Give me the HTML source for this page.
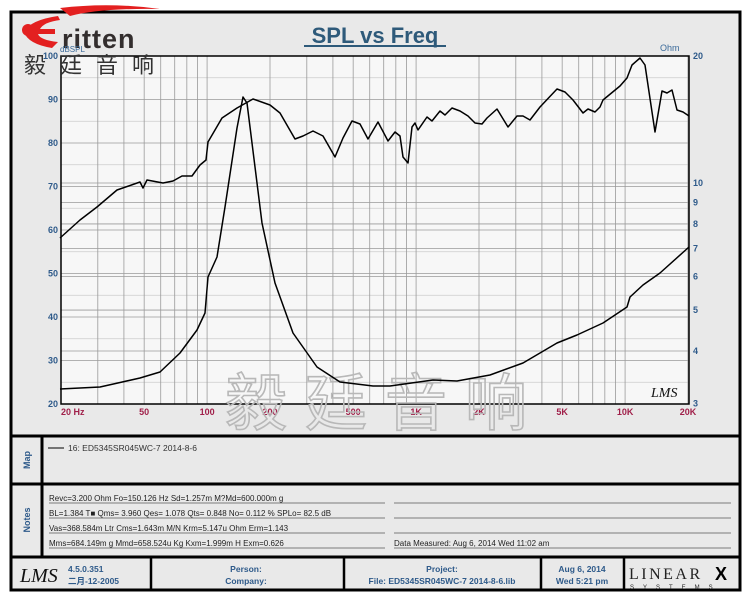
<!DOCTYPE html>
<html><head><meta charset="utf-8"><style>
body{margin:0;width:750px;height:600px;background:#fff;font-family:"Liberation Sans","Noto Sans CJK SC",sans-serif;overflow:hidden}
svg{position:absolute;left:0;top:0}
</style></head><body>
<svg width="750" height="600" xmlns="http://www.w3.org/2000/svg" font-family="Liberation Sans, Noto Sans CJK SC, sans-serif">
<rect x="11" y="12" width="729" height="578" fill="#e9e9e9" stroke="#000" stroke-width="3"/>
<rect x="61" y="56" width="628" height="348" fill="#f7f7f7"/>
<g stroke="#9a9a9a" stroke-width="0.8" id="grid"></g>
<rect x="61" y="56" width="628" height="348" fill="none" stroke="#000" stroke-width="1.5"/>
<text x="375" y="43" font-size="22" font-weight="bold" fill="#2e5a7a" text-anchor="middle">SPL vs Freq</text>
<line x1="304" y1="46" x2="446" y2="46" stroke="#2e5a7a" stroke-width="2"/>
<!-- logo -->
<path d="M60 8 Q110 2 160 9 Q100 8 70 16 Z" fill="#e32020"/>
<path d="M58 16 Q30 20 24 32 Q28 44 52 48 L58 42 Q40 40 38 34 L55 34 L55 29 L40 29 Q44 22 60 20 Z" fill="#e32020"/>
<circle cx="28" cy="30" r="6" fill="#e32020"/>
<text x="62" y="48" font-size="27" font-weight="bold" fill="#332e2e" letter-spacing="1">ritten</text>
<text x="24" y="73" font-size="22" fill="#333" letter-spacing="14">毅廷音响</text>
<text x="60" y="52" font-size="8" fill="#3a6a9a">dBSPL</text>
<text x="660" y="51" font-size="9" fill="#3a6a9a">Ohm</text>
<g font-size="9" fill="#2e5a8a" font-weight="bold" id="ylab"></g>
<g font-size="9" fill="#a0204a" font-weight="bold" id="xlab"></g>
<text x="225" y="425" font-size="62" fill="none" stroke="#b8b8b8" stroke-width="1.6" letter-spacing="18">毅廷音响</text>
<text x="651" y="397" font-size="14" font-style="italic" fill="#111" font-family="Liberation Serif, serif">LMS</text>
<polyline fill="none" stroke="#000" stroke-width="1.5" stroke-linejoin="round" points="60,238 80,220 97,207 117,190 140,182 143,188 147,180 163,183 173,181 182,176 192,176 200,165 206,160 208,142 222,118 237,108 253,99 270,105 280,113 295,139 303,136 313,131 323,136 335,157 343,138 352,121 360,124 368,139 378,122 388,141 395,132 400,136 403,157 408,163 412,127 415,123 418,130 427,117 432,121 440,111 445,115 452,108 460,111 468,116 475,123 482,124 487,118 497,109 508,127 517,116 523,116 530,120 540,107 557,89 565,92 573,100 583,113 588,109 595,112 600,107 603,100 620,86 627,78 632,65 640,58 645,65 655,132 662,91 667,93 672,90 677,110 683,112 689,116"/>
<polyline fill="none" stroke="#000" stroke-width="1.5" stroke-linejoin="round" points="60,389 100,387 140,378 160,372 180,353 197,330 205,313 208,277 217,257 225,207 237,128 243,97 247,103 262,223 275,283 293,333 317,367 340,382 373,386 390,386 433,380 457,381 490,375 523,363 557,343 577,335 603,323 627,307 630,297 643,285 660,273 689,247"/>
<line x1="11" y1="436" x2="740" y2="436" stroke="#000" stroke-width="3"/>
<line x1="11" y1="484" x2="740" y2="484" stroke="#000" stroke-width="3"/>
<line x1="11" y1="557" x2="740" y2="557" stroke="#000" stroke-width="3"/>
<line x1="42" y1="436" x2="42" y2="557" stroke="#000" stroke-width="3"/>
<text transform="translate(30,460) rotate(-90)" font-size="9" font-weight="bold" fill="#2e5a8a" text-anchor="middle">Map</text>
<text transform="translate(30,520) rotate(-90)" font-size="9" font-weight="bold" fill="#2e5a8a" text-anchor="middle">Notes</text>
<line x1="48" y1="448" x2="64" y2="448" stroke="#000" stroke-width="1"/>
<text x="68" y="451" font-size="8.5" fill="#333">16: ED5345SR045WC-7   2014-8-6</text>
<g font-size="8" fill="#222">
<text x="49" y="501">Revc=3.200 Ohm  Fo=150.126 Hz  Sd=1.257m M?Md=600.000m g</text>
<text x="49" y="516">BL=1.384 T■  Qms= 3.960  Qes= 1.078  Qts= 0.848  No= 0.112 %  SPLo= 82.5 dB</text>
<text x="49" y="531">Vas=368.584m Ltr  Cms=1.643m M/N  Krm=5.147u Ohm  Erm=1.143</text>
<text x="49" y="546">Mms=684.149m g  Mmd=658.524u Kg  Kxm=1.999m H  Exm=0.626</text>
<text x="394" y="546">Data Measured: Aug  6, 2014  Wed 11:02 am</text>
</g>
<g stroke="#555" stroke-width="0.8">
<line x1="49" y1="503" x2="385" y2="503"/><line x1="394" y1="503" x2="731" y2="503"/>
<line x1="49" y1="518" x2="385" y2="518"/><line x1="394" y1="518" x2="731" y2="518"/>
<line x1="49" y1="533" x2="385" y2="533"/><line x1="394" y1="533" x2="731" y2="533"/>
<line x1="49" y1="548" x2="385" y2="548"/><line x1="394" y1="548" x2="731" y2="548"/>
</g>
<g stroke="#000" stroke-width="2.5">
<line x1="151" y1="557" x2="151" y2="590"/><line x1="344" y1="557" x2="344" y2="590"/>
<line x1="541" y1="557" x2="541" y2="590"/><line x1="624" y1="557" x2="624" y2="590"/>
</g>
<text x="20" y="582" font-size="20" font-style="italic" fill="#111" font-family="Liberation Serif, serif">LMS</text>
<g font-size="8.5" fill="#2e5a8a" font-weight="bold">
<text x="68" y="572">4.5.0.351</text><text x="68" y="584">二月-12-2005</text>
<text x="246" y="572" text-anchor="middle">Person:</text><text x="246" y="584" text-anchor="middle">Company:</text>
<text x="442" y="572" text-anchor="middle">Project:</text><text x="442" y="584" text-anchor="middle">File: ED5345SR045WC-7   2014-8-6.lib</text>
<text x="582" y="572" text-anchor="middle">Aug  6, 2014</text><text x="582" y="584" text-anchor="middle">Wed  5:21 pm</text>
</g>
<text x="629" y="579" font-size="16" fill="#222" font-family="Liberation Serif, serif" letter-spacing="2.5">LINEAR</text>
<text x="715" y="580" font-size="18" font-weight="bold" fill="#000">X</text>
<text x="630" y="589" font-size="6" fill="#222" letter-spacing="9">SYSTEMS</text>
</svg>
<script>
var NS="http://www.w3.org/2000/svg";
function el(p,t,a,txt){var e=document.createElementNS(NS,t);for(var k in a)e.setAttribute(k,a[k]);if(txt!==undefined)e.textContent=txt;document.getElementById(p).appendChild(e);}
function fx(f){return 61+209*Math.log10(f/20);}
var fs=[];for(var d=10;d<=10000;d*=10)for(var m=1;m<10;m++){var f=d*m;if(f>=20&&f<=20000)fs.push(f);}fs.push(20000);
fs.forEach(function(f){var x=fx(f);el("grid","line",{x1:x,y1:56,x2:x,y2:404});});
for(var v=20;v<=100;v+=5){var y=56+(100-v)*4.35;el("grid","line",{x1:61,y1:y,x2:689,y2:y,"stroke-opacity":v%10?0.45:1});}
[10,9,8,7,6,5,4].forEach(function(o){var y=56+422*Math.log10(20/o);el("grid","line",{x1:61,y1:y,x2:689,y2:y});});
for(var v=20;v<=100;v+=10){el("ylab","text",{x:58,y:56+(100-v)*4.35+3,"text-anchor":"end"},v);}
[20,10,9,8,7,6,5,4,3].forEach(function(o){el("ylab","text",{x:693,y:56+422*Math.log10(20/o)+3},o);});
[[20,"20  Hz"],[50,"50"],[100,"100"],[200,"200"],[500,"500"],[1000,"1K"],[2000,"2K"],[5000,"5K"],[10000,"10K"],[20000,"20K"]].forEach(function(a){var x=fx(a[0]);el("xlab","text",{x:x,y:415,"text-anchor":a[0]==20?"start":"middle"},a[1]);});
</script>
</body></html>
